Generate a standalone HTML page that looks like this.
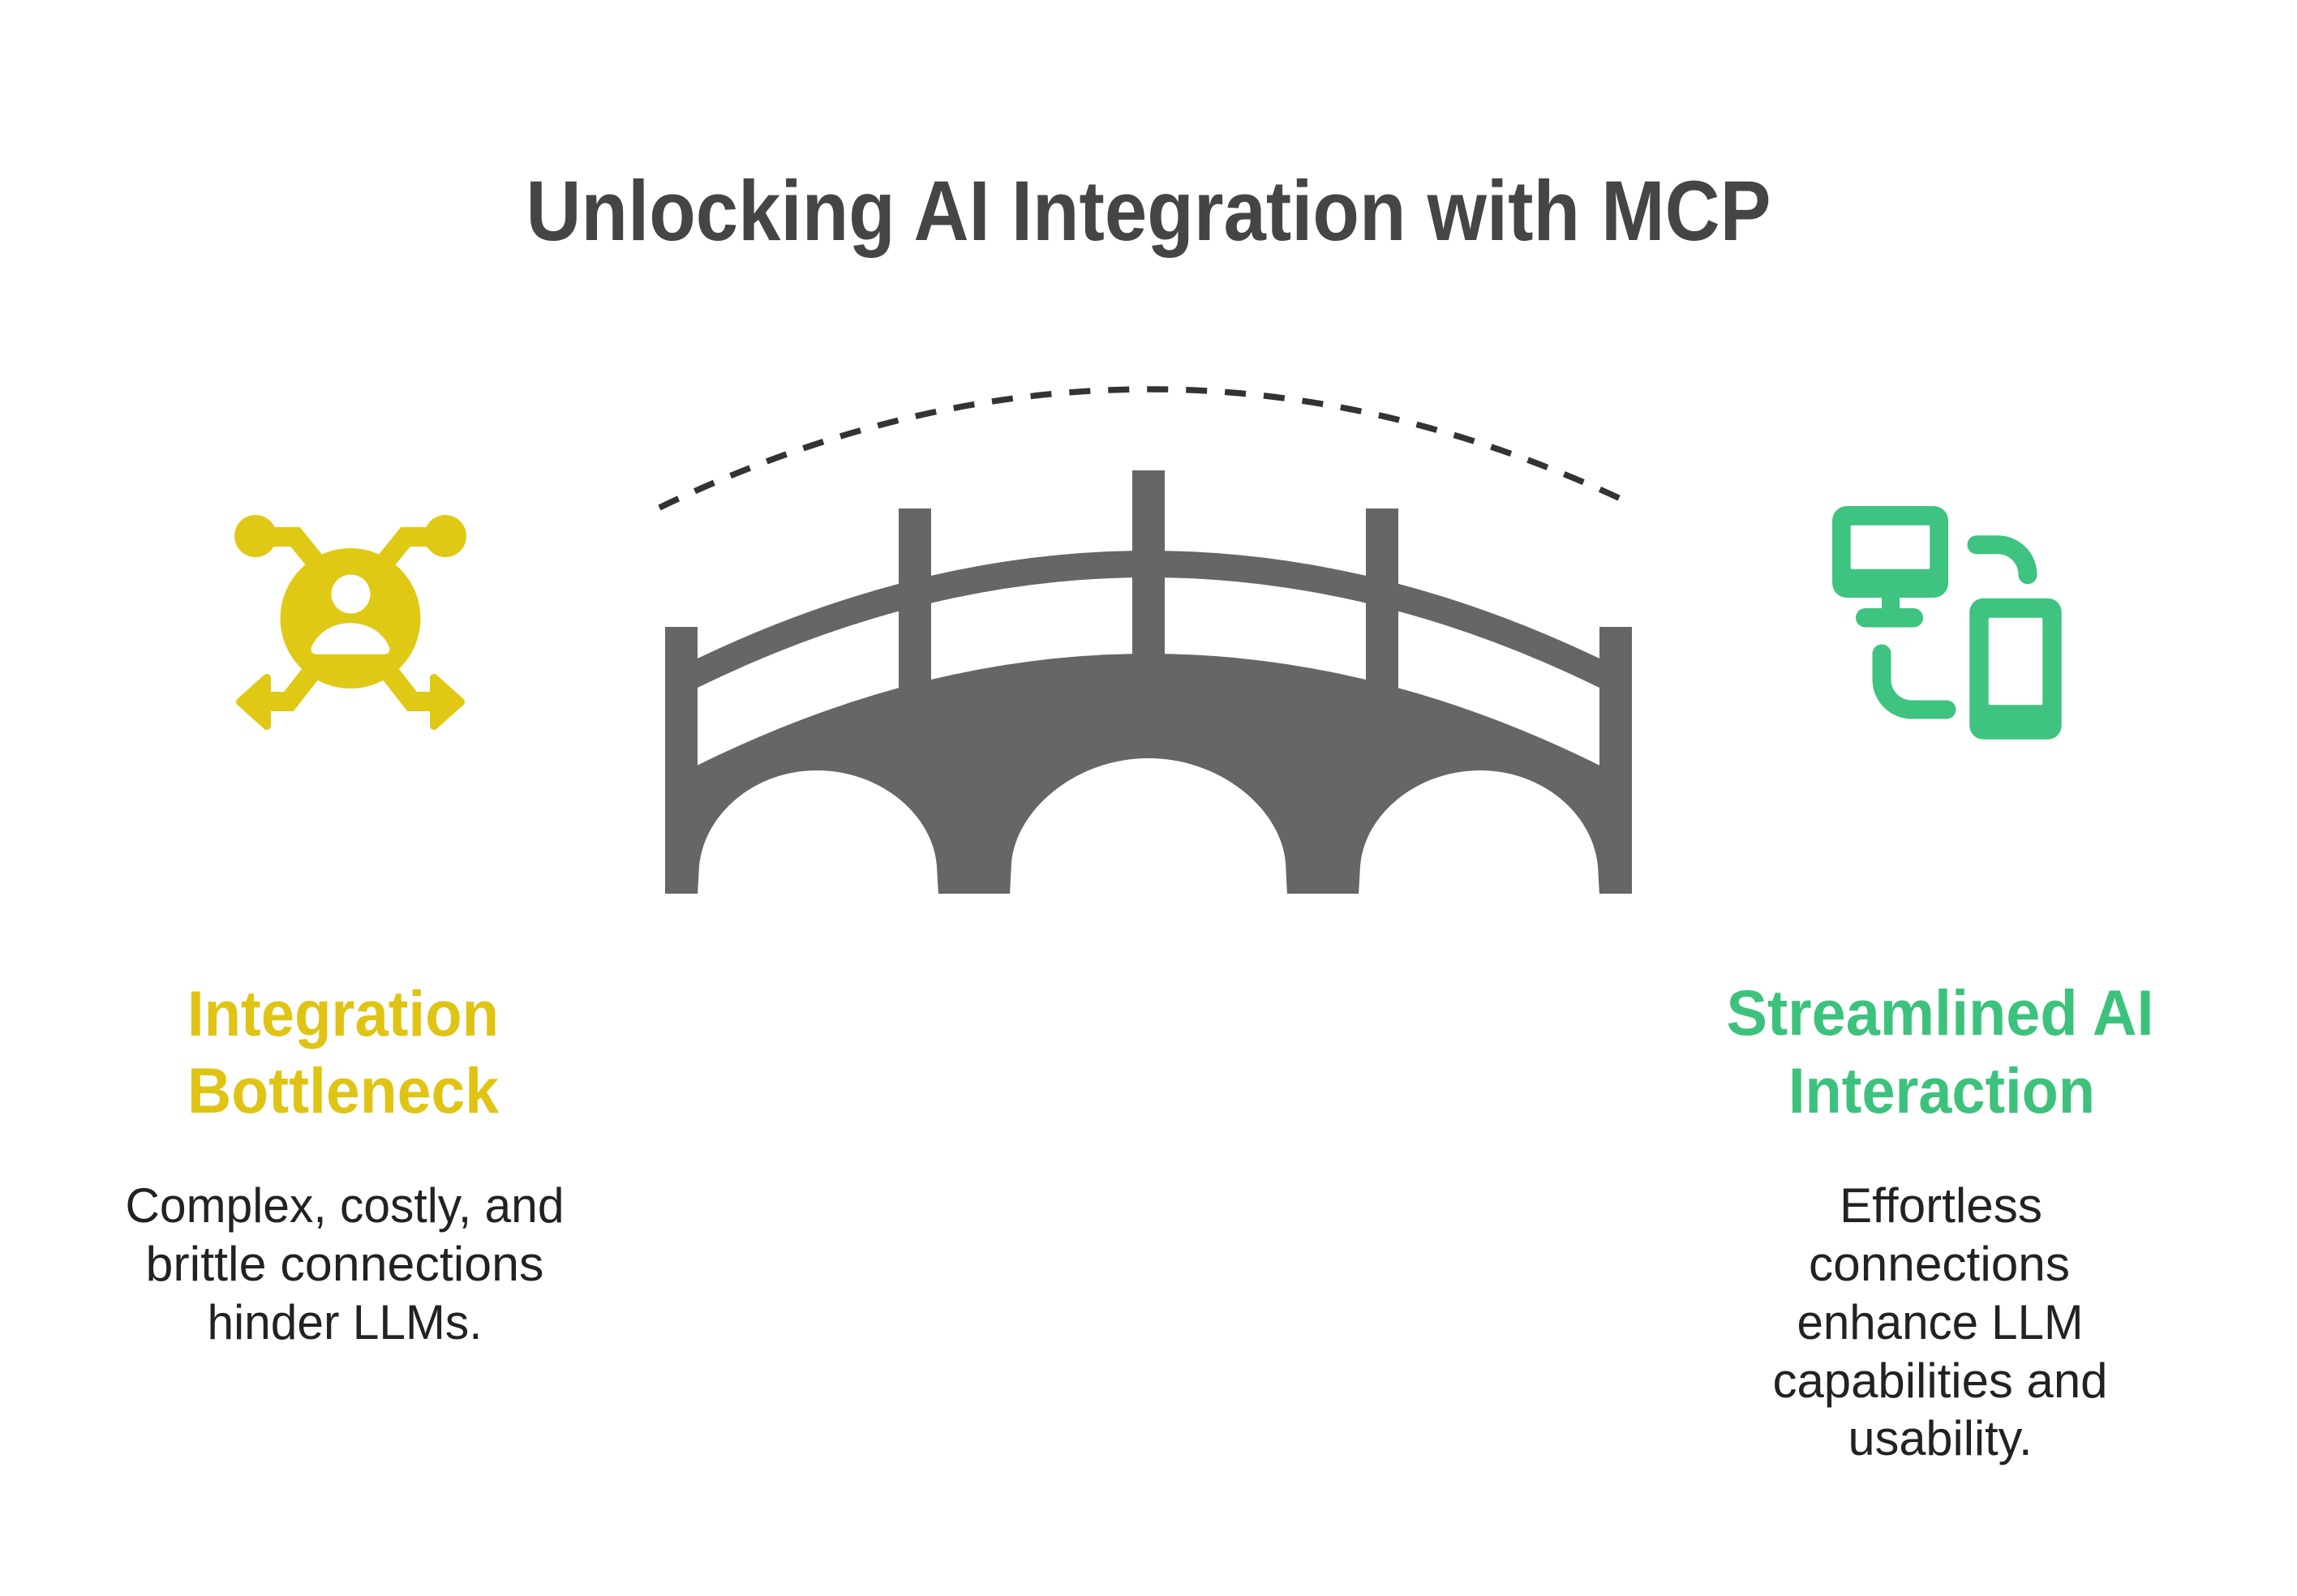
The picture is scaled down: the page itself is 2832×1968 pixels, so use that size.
<!DOCTYPE html>
<html>
<head>
<meta charset="utf-8">
<style>
  html, body { margin: 0; padding: 0; background: #ffffff; }
  body { width: 2832px; height: 1968px; overflow: hidden; }
  svg { display: block; }
  text { font-family: "Liberation Sans", Arial, sans-serif; }
</style>
</head>
<body>
<svg width="2832" height="1968" viewBox="0 0 2832 1968" xmlns="http://www.w3.org/2000/svg">
  <rect x="0" y="0" width="2832" height="1968" fill="#ffffff"/>

  <!-- Title -->
  <text x="1416" y="296" text-anchor="middle" font-size="105" font-weight="bold" fill="#454545" textLength="1535" lengthAdjust="spacingAndGlyphs">Unlocking AI Integration with MCP</text>

  <!-- Dashed arc -->
  <path d="M 813 626 Q 1405.5 339.5 1998 615" stroke="#333333" stroke-width="7.5" fill="none" stroke-dasharray="26 22"/>

  <!-- Bridge -->
  <g fill="#666666">
    <!-- top rail -->
    <path d="M 858 812.9 Q 1416 545.1 1974 812.9 L 1974 849 Q 1416 575 858 849 Z"/>
    <!-- deck / body -->
    <path d="M 858 944.6 Q 1416 667.4 1974 944.6 L 1974 1102 L 858 1102 Z"/>
  </g>
  <!-- arches (openings) -->
  <g fill="#ffffff">
    <path d="M 860 1104 L 862 1068 C 868 1004, 930 950, 1007 950 C 1085 950, 1150 1004, 1155 1068 L 1157 1104 Z"/>
    <path d="M 1245 1104 L 1247 1064 C 1252 1000, 1325 935, 1416 935 C 1507 935, 1580 1000, 1585 1064 L 1587 1104 Z"/>
    <path d="M 1675 1104 L 1677 1068 C 1682 1004, 1747 950, 1825 950 C 1902 950, 1964 1004, 1970 1068 L 1972 1104 Z"/>
  </g>
  <!-- posts -->
  <g fill="#666666">
    <rect x="820" y="773" width="40" height="329"/>
    <rect x="1108" y="627" width="40" height="260"/>
    <rect x="1396" y="580" width="40" height="260"/>
    <rect x="1684" y="627" width="40" height="260"/>
    <rect x="1972" y="773" width="40" height="329"/>
  </g>

  <!-- Left icon (yellow) -->
  <g>
    <g fill="none" stroke="#dfc914" stroke-width="24" stroke-linejoin="miter">
      <path d="M 320 662 L 364 662 L 394 699"/>
      <path d="M 544 662 L 500 662 L 470 699"/>
      <path d="M 326 865 L 356 865 L 388 824"/>
      <path d="M 538 865 L 508 865 L 476 824"/>
    </g>
    <g fill="#dfc914" stroke="#dfc914" stroke-width="10" stroke-linejoin="round">
      <polygon points="329,836 296,865.5 329,895"/>
      <polygon points="535,836 568,865.5 535,895"/>
    </g>
    <g fill="#dfc914">
      <circle cx="315" cy="661" r="26"/>
      <circle cx="549" cy="661" r="26"/>
      <circle cx="432" cy="762.5" r="86.5"/>
    </g>
    <g fill="#ffffff">
      <circle cx="432.5" cy="732.5" r="24"/>
      <path d="M 391 806.7 Q 382 806.7 384 798 C 392 780, 410 768.3, 432 768.3 C 454 768.3, 472 780, 480 798 Q 482 806.7 473 806.7 Z"/>
    </g>
  </g>

  <!-- Right icon (green) -->
  <g>
    <g fill="#3ec380">
      <rect x="2259" y="624" width="143" height="113" rx="18" ry="18"/>
      <rect x="2320" y="732" width="22" height="22"/>
      <rect x="2288" y="750" width="83" height="23.5" rx="11.7" ry="11.7"/>
      <rect x="2428.3" y="737.7" width="113.4" height="174" rx="17" ry="17"/>
    </g>
    <g fill="#ffffff">
      <rect x="2281.7" y="647.7" width="97.6" height="54" rx="2"/>
      <rect x="2451.7" y="761.7" width="66.6" height="107.6" rx="2"/>
    </g>
    <g fill="none" stroke="#3ec380" stroke-width="23" stroke-linecap="round">
      <path d="M 2437 671.7 L 2463 671.7 A 37 37 0 0 1 2500 708.7"/>
      <path d="M 2320 806 L 2320 838 A 37 37 0 0 0 2357 875 L 2400 875"/>
    </g>
  </g>

  <!-- Left column text -->
  <g font-weight="bold" font-size="79" fill="#e0c414" text-anchor="middle">
    <text x="423" y="1277" textLength="384" lengthAdjust="spacingAndGlyphs">Integration</text>
    <text x="423" y="1372" textLength="384" lengthAdjust="spacingAndGlyphs">Bottleneck</text>
  </g>
  <g font-size="60" fill="#222222" text-anchor="middle">
    <text x="425" y="1507" textLength="541" lengthAdjust="spacingAndGlyphs">Complex, costly, and</text>
    <text x="425" y="1579" textLength="491" lengthAdjust="spacingAndGlyphs">brittle connections</text>
    <text x="425" y="1651" textLength="339" lengthAdjust="spacingAndGlyphs">hinder LLMs.</text>
  </g>

  <!-- Right column text -->
  <g font-weight="bold" font-size="79" fill="#3cc27c" text-anchor="middle">
    <text x="2392" y="1276" textLength="527" lengthAdjust="spacingAndGlyphs">Streamlined AI</text>
    <text x="2394" y="1372" textLength="378" lengthAdjust="spacingAndGlyphs">Interaction</text>
  </g>
  <g font-size="60" fill="#222222" text-anchor="middle">
    <text x="2393" y="1507" textLength="250" lengthAdjust="spacingAndGlyphs">Effortless</text>
    <text x="2391" y="1579" textLength="322" lengthAdjust="spacingAndGlyphs">connections</text>
    <text x="2392" y="1651" textLength="353" lengthAdjust="spacingAndGlyphs">enhance LLM</text>
    <text x="2392" y="1723" textLength="413" lengthAdjust="spacingAndGlyphs">capabilities and</text>
    <text x="2392" y="1794" textLength="227" lengthAdjust="spacingAndGlyphs">usability.</text>
  </g>
</svg>
</body>
</html>
